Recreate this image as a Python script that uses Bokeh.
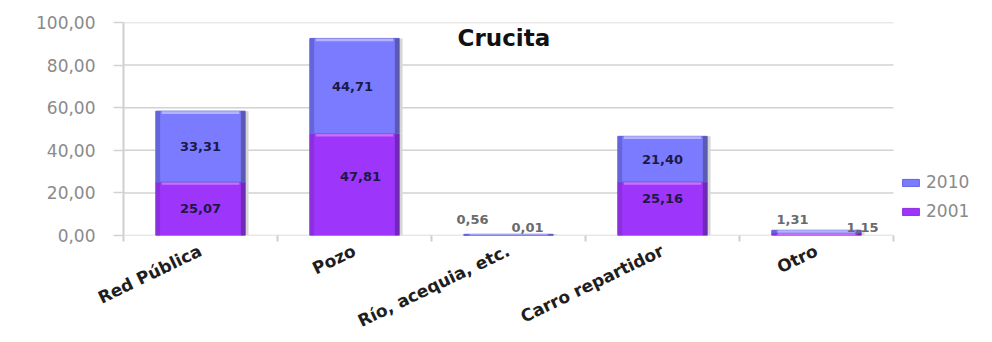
from bokeh.plotting import figure
from bokeh.models import (ColumnDataSource, Range1d, LinearAxis, FixedTicker, LabelSet, Label,
                          Legend, LegendItem)
from bokeh.core.properties import value
from bokeh.transform import dodge
from bokeh.embed import file_html
from bokeh.resources import INLINE

# ---- data -------------------------------------------------------------
categories = ["Red Pública", "Pozo", "Río, acequia, etc.", "Carro repartidor", "Otro"]
values_2001 = [25.07, 47.81, 0.01, 25.16, 1.31]
values_2010 = [33.31, 44.71, 0.56, 21.40, 1.15]
y_ticks = [0, 20, 40, 60, 80, 100]
series_names = ["2001", "2010"]

# ---- styling ------------------------------------------------------------
FONT = "DejaVu Sans"
BAR_W = 0.58
EDGE_W = 0.028
HILITE = 1.3          # height of the glossy strip on top of each segment (data units)
GRID = "#d2d2d2"
STYLE = {
    "2001": dict(main="#9d35fb", hi="#cf6cff", left="#8c2fe0", right="#7128b8"),
    "2010": dict(main="#7b7bff", hi="#b3b3ff", left="#6464dc", right="#5a5ab4"),
}
# label nudges (screen px) for each segment label
nudge_2001 = [(0, 0), (6, 8), (19, 8), (0, 10), (-24, 15)]
nudge_2010 = [(0, 0), (-2, 0), (-36, 15), (0, 0), (46, 4)]

W, H = 992, 342
LEFT, PLOT_W, LEGEND_W = 123, 770, 99   # category area followed by a legend strip


def fmt(v):
    return f"{v:.2f}".replace(".", ",")


n_cat = len(categories)
centers = [i + 0.5 for i in range(n_cat)]   # one unit slot per category
x_end = n_cat * (PLOT_W + LEGEND_W) / PLOT_W

p = figure(width=W, height=H,
           x_range=Range1d(0, x_end), y_range=Range1d(0, 100),
           output_backend="svg", toolbar_location=None,
           x_axis_location=None, y_axis_location="left",
           min_border_left=LEFT, min_border_right=0,
           min_border_top=22, min_border_bottom=106)
p.title.visible = False
p.outline_line_color = None
p.background_fill_color = "white"
p.border_fill_color = "white"
p.xgrid.visible = False
p.ygrid.visible = False

# horizontal gridlines across the category area only
p.segment(x0=0, x1=n_cat, y0=y_ticks, y1=y_ticks, line_color=GRID, line_width=1.5)

# ---- axes ---------------------------------------------------------------
yax = p.yaxis[0]
yax.ticker = FixedTicker(ticks=y_ticks)
yax.major_label_overrides = {t: fmt(t) for t in y_ticks}
yax.major_label_text_font = FONT
yax.major_label_text_font_size = "17px"
yax.major_label_text_color = "#8a8a8a"
yax.major_label_standoff = 18
yax.major_tick_out = 10
yax.major_tick_in = 0
yax.major_tick_line_color = GRID
yax.major_tick_line_width = 1.5
yax.minor_tick_line_color = None
yax.axis_line_color = "#cfcfcf"
yax.axis_line_width = 2

# boundary ticks between the categories
bounds = list(range(n_cat + 1))
tick_axis = LinearAxis(ticker=FixedTicker(ticks=bounds),
                       major_label_overrides={b: "" for b in bounds},
                       major_label_standoff=0, major_label_text_font_size="6px",
                       major_tick_out=6, major_tick_in=0,
                       major_tick_line_color="#cfcfcf", major_tick_line_width=2,
                       minor_tick_line_color=None, axis_line_color=None)
p.add_layout(tick_axis, "below")

# category names under the slot centres
cat_axis = LinearAxis(ticker=FixedTicker(ticks=centers),
                      major_label_overrides={c: name for c, name in zip(centers, categories)},
                      major_tick_out=0, major_tick_in=0, major_tick_line_color=None,
                      minor_tick_line_color=None, axis_line_color=None,
                      major_label_standoff=8, major_label_orientation=0.45,
                      major_label_text_font=FONT, major_label_text_font_size="17px",
                      major_label_text_font_style="bold",
                      major_label_text_color="#1e1e1e")
p.add_layout(cat_axis, "below")

# ---- stacked bars ------------------------------------------------------
bottoms = {"2001": [0.0] * n_cat, "2010": list(values_2001)}
tops = {"2001": list(values_2001),
        "2010": [a + b for a, b in zip(values_2001, values_2010)]}
vals = {"2001": values_2001, "2010": values_2010}
nudges = {"2001": nudge_2001, "2010": nudge_2010}

main_renderers = {}
label_rows = dict(x=[], y=[], text=[], dx=[], dy=[], color=[])
for name in series_names:
    st = STYLE[name]
    b, t = bottoms[name], tops[name]
    src = ColumnDataSource(dict(
        x=centers, bottom=b, top=t,
        hb=[max(tt - HILITE, bb) for bb, tt in zip(b, t)],
    ))
    # soft shadow to the right
    p.vbar(x=dodge("x", 0.022), bottom="bottom", top="top", width=BAR_W,
           source=src, fill_color="#d6d6d6", line_color=None)
    r = p.vbar(x="x", bottom="bottom", top="top", width=BAR_W, source=src,
               fill_color=st["main"], line_color=st["left"], line_width=1)
    main_renderers[name] = r
    # side shading
    p.vbar(x=dodge("x", -(BAR_W - EDGE_W) / 2), bottom="bottom", top="top",
           width=EDGE_W, source=src, fill_color=st["left"], line_color=None)
    p.vbar(x=dodge("x", (BAR_W - EDGE_W) / 2), bottom="bottom", top="top",
           width=EDGE_W, source=src, fill_color=st["right"], line_color=None)
    # glossy top strip
    p.vbar(x="x", bottom="hb", top="top", width=BAR_W - 2 * EDGE_W - 0.02, source=src,
           fill_color=st["hi"], line_color=None)

    for i in range(n_cat):
        v = vals[name][i]
        label_rows["x"].append(centers[i])
        label_rows["y"].append((b[i] + t[i]) / 2)
        label_rows["text"].append(fmt(v))
        label_rows["dx"].append(nudges[name][i][0])
        label_rows["dy"].append(nudges[name][i][1])
        label_rows["color"].append("#1c1a44" if v > 5 else "#6a6a6a")

labels = LabelSet(x="x", y="y", text="text", x_offset="dx", y_offset="dy",
                  source=ColumnDataSource(label_rows), text_color="color",
                  text_font=value(FONT), text_font_size="13px", text_font_style="bold",
                  text_align="center", text_baseline="middle")
p.add_layout(labels)

# ---- title inside the plot area ---------------------------------------
p.add_layout(Label(x=2.47, y=92.5, text="Crucita",
                   text_font=FONT, text_font_size="23px", text_font_style="bold",
                   text_color="#111111", text_align="center", text_baseline="middle"))

# ---- legend in the strip right of the categories ------------------------
legend = Legend(items=[LegendItem(label=n, renderers=[main_renderers[n]])
                       for n in reversed(series_names)],
                location=(PLOT_W + 7, 14), orientation="vertical",
                glyph_width=21, glyph_height=9, label_height=18, spacing=9,
                label_standoff=5, padding=0, margin=0,
                label_text_font=FONT, label_text_font_size="17px",
                label_text_color="#8a8a8a",
                border_line_color=None, background_fill_alpha=0)
p.add_layout(legend)

open("out.html", "w").write(file_html(p, INLINE))
